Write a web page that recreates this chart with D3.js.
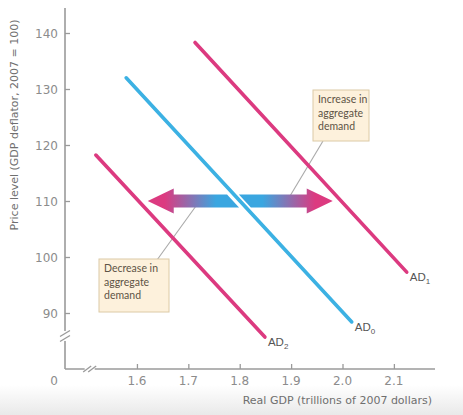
<!DOCTYPE html>
<html><head><meta charset="utf-8">
<script src="https://cdn.jsdelivr.net/npm/d3@7/dist/d3.min.js"></script>
<style>
html,body{margin:0;padding:0;background:#fff;}
svg{display:block;font-family:"Lato","DejaVu Sans",sans-serif;}
</style></head>
<body><svg id="c" width="463" height="415"></svg>
<script>
// ---- data ----
const xTicks = [1.6, 1.7, 1.8, 1.9, 2.0, 2.1];
const yTicks = [90, 100, 110, 120, 130, 140];
const curveNames = ["AD0", "AD1", "AD2"];
const ad0Points = [[1.579, 132.0], [2.018, 88.4]];
const ad1Points = [[1.713, 138.3], [2.125, 97.3]];
const ad2Points = [[1.520, 118.2], [1.849, 85.7]];
const arrowLeft = [1.621, 1.787];   // tip, inner end (real GDP)
const arrowRight = [1.810, 1.981];  // inner end, tip
const arrowPrice = 110;
const increaseText = ["Increase in", "aggregate", "demand"];
const decreaseText = ["Decrease in", "aggregate", "demand"];
const xTitle = "Real GDP (trillions of 2007 dollars)";
const yTitle = "Price level (GDP deflator, 2007 = 100)";

// ---- scales ----
const svg = d3.select("#c");
const x = d3.scaleLinear().domain([1.46, 2.18]).range([65, 435]);
const y = d3.scaleLinear().domain([80, 140]).range([369, 33]);
const axisColor = "#9a9a9a", tickText = "#8c8c8c";
const pink = "#dc3a80", blue = "#3cb1e3";
const wideFont = "'DejaVu Sans',sans-serif";

// bottom fade
const defs = svg.append("defs");
const bg = defs.append("linearGradient").attr("id","bgfade").attr("x1",0).attr("x2",0).attr("y1",0).attr("y2",1);
bg.append("stop").attr("offset","0%").attr("stop-color","#ffffff");
bg.append("stop").attr("offset","100%").attr("stop-color","#e9e9e9");
svg.append("rect").attr("x",0).attr("y",385).attr("width",463).attr("height",30).attr("fill","url(#bgfade)");

// ---- axes ----
const yAxis = d3.axisRight(y).tickValues(yTicks).tickSize(5).tickFormat("");
const gy = svg.append("g").attr("transform", `translate(${x(1.46)},0)`).call(yAxis);
gy.select(".domain").remove();
gy.selectAll("line").attr("stroke", axisColor).attr("stroke-width", 1.3);
svg.selectAll(".ylab").data(yTicks).join("text")
  .attr("x", 58).attr("y", d => y(d) + 4.5).attr("text-anchor","end")
  .attr("font-family", wideFont).attr("font-size", 12).attr("fill", tickText).text(d => d);

const xAxis = d3.axisTop(x).tickValues(xTicks).tickSize(5).tickFormat("");
const gx = svg.append("g").attr("transform", `translate(0,${y(80)})`).call(xAxis);
gx.select(".domain").remove();
gx.selectAll("line").attr("stroke", axisColor).attr("stroke-width", 1.3);
svg.selectAll(".xlab").data(xTicks).join("text")
  .attr("x", d => x(d)).attr("y", 385).attr("text-anchor","middle")
  .attr("font-family", wideFont).attr("font-size", 12).attr("fill", tickText).text(d => d3.format(".1f")(d));

// axis lines
svg.append("line").attr("x1", x(1.46)).attr("x2", x(1.46)).attr("y1", 8).attr("y2", y(80))
  .attr("stroke", axisColor).attr("stroke-width", 1.6);
svg.append("line").attr("x1", x(1.46)).attr("x2", x(2.18)).attr("y1", y(80)).attr("y2", y(80))
  .attr("stroke", axisColor).attr("stroke-width", 1.6);
// break marks
const brk = svg.append("g").attr("stroke", axisColor).attr("stroke-width", 1.3);
[[x(1.46), y(85.9)]].forEach(([cx, cy]) => {
  brk.append("rect").attr("x", cx-4).attr("y", cy-5).attr("width", 8).attr("height", 10).attr("fill","#fff").attr("stroke","none");
  [-2.5, 2.5].forEach(o => brk.append("line").attr("x1", cx-5).attr("y1", cy+o+3).attr("x2", cx+5).attr("y2", cy+o-3));
});
[[x(1.508), y(80)]].forEach(([cx, cy]) => {
  brk.append("rect").attr("x", cx-5).attr("y", cy-4).attr("width", 10).attr("height", 8).attr("fill","#fff").attr("stroke","none");
  [-2.5, 2.5].forEach(o => brk.append("line").attr("x1", cx+o-4).attr("y1", cy+3).attr("x2", cx+o+4).attr("y2", cy-3));
});
svg.append("text").attr("x", 54).attr("y", 385).attr("text-anchor","middle")
  .attr("font-family", wideFont).attr("font-size", 12).attr("fill", tickText).text("0");

// titles
svg.append("text").attr("x", 432).attr("y", 404).attr("text-anchor","end")
  .attr("font-family", wideFont).attr("font-size", 11).attr("fill", "#6f6f6f").text(xTitle);
svg.append("text").attr("transform", "translate(18,125) rotate(-90)").attr("text-anchor","middle")
  .attr("font-family", wideFont).attr("font-size", 11).attr("fill", "#6f6f6f").text(yTitle);

// ---- leader lines & boxes ----
const lead = svg.append("g").attr("stroke", "#a9a9a9").attr("stroke-width", 1.1);
lead.append("line").attr("x1", 323).attr("y1", 141).attr("x2", 284).attr("y2", 206);
lead.append("line").attr("x1", 157).attr("y1", 260).attr("x2", 196).attr("y2", 206);

function box(bx, by, w, h, lines) {
  svg.append("rect").attr("x", bx).attr("y", by).attr("width", w).attr("height", h)
    .attr("fill", "#fdf1dc").attr("stroke", "#dccaa6").attr("stroke-width", 1);
  lines.forEach((t, i) => svg.append("text").attr("x", bx + 5).attr("y", by + 13 + i * 13.5)
    .attr("font-size", 10.5).attr("fill", "#5e5446").text(t));
}
box(313, 90, 56, 51, increaseText);
box(99, 259, 70, 53, decreaseText);

// ---- AD curves ----
const line = d3.line().x(d => x(d[0])).y(d => y(d[1]));
const curves = [ad0Points, ad1Points, ad2Points];
const colors = [blue, pink, pink];
curves.forEach((pts, i) => {
  svg.append("path").attr("d", line(pts)).attr("fill","none")
    .attr("stroke", colors[i]).attr("stroke-width", 3.6).attr("stroke-linecap","round");
});
const subs = ["0", "1", "2"];
curves.forEach((pts, i) => {
  const p = pts[1];
  const t = svg.append("text").attr("x", x(p[0]) + 3).attr("y", y(p[1]) + 9)
    .attr("font-family", "'Liberation Sans',Arial,sans-serif")
    .attr("font-size", 11.5).attr("fill", "#555").text("AD");
  t.append("tspan").attr("font-size", 8).attr("dy", 3).text(subs[i]);
});

// ---- arrows ----
const gL = defs.append("linearGradient").attr("id","gL").attr("gradientUnits","userSpaceOnUse")
  .attr("x1", x(arrowLeft[0])).attr("x2", x(arrowLeft[1])).attr("y1",0).attr("y2",0);
gL.append("stop").attr("offset","20%").attr("stop-color", pink);
gL.append("stop").attr("offset","80%").attr("stop-color", "#3aa6e0");
const gR = defs.append("linearGradient").attr("id","gR").attr("gradientUnits","userSpaceOnUse")
  .attr("x1", x(arrowRight[0])).attr("x2", x(arrowRight[1])).attr("y1",0).attr("y2",0);
gR.append("stop").attr("offset","20%").attr("stop-color", "#3aa6e0");
gR.append("stop").attr("offset","80%").attr("stop-color", pink);

const cy = y(arrowPrice);
const sh = 6.5, hh = 12.5, hl = 26, slant = 6;
{
  const tip = x(arrowLeft[0]), end = x(arrowLeft[1]);
  const pts = [[tip, cy], [tip + hl, cy - hh], [tip + hl, cy - sh], [end - slant, cy - sh],
               [end + slant, cy + sh], [tip + hl, cy + sh], [tip + hl, cy + hh]];
  svg.append("polygon").attr("points", pts.map(p => p.join(",")).join(" ")).attr("fill","url(#gL)");
}
{
  const st = x(arrowRight[0]), tip = x(arrowRight[1]);
  const pts = [[st - slant, cy - sh], [tip - hl, cy - sh], [tip - hl, cy - hh], [tip, cy],
               [tip - hl, cy + hh], [tip - hl, cy + sh], [st + slant, cy + sh]];
  svg.append("polygon").attr("points", pts.map(p => p.join(",")).join(" ")).attr("fill","url(#gR)");
}
</script></body></html>
